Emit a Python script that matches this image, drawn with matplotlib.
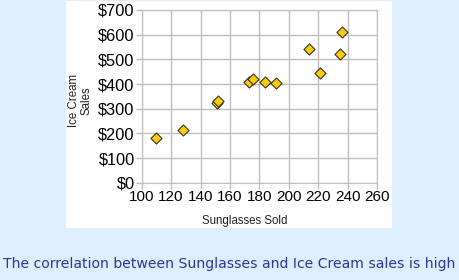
import matplotlib
matplotlib.use("Agg")
import matplotlib.pyplot as plt
from matplotlib.ticker import FuncFormatter

# sunglasses sold vs ice cream sales ($)
sunglasses = [110, 128, 151, 152, 173, 176, 184, 191, 214, 221, 235, 236]
ice_cream = [183, 213, 325, 330, 408, 420, 410, 405, 543, 445, 520, 612]

x_ticks = [100, 120, 140, 160, 180, 200, 220, 240, 260]
y_ticks = [0, 100, 200, 300, 400, 500, 600, 700]

bg = "#ddeeff"
grid_c = "#c0c0c0"

fig = plt.figure(figsize=(4.59, 2.8), dpi=100, facecolor=bg)

# white chart panel behind the plot
panel = fig.add_axes([0.1438, 0.1857, 0.710, 0.8107])
panel.set_facecolor("white")
panel.set_xticks([]); panel.set_yticks([])
for s in panel.spines.values():
    s.set_visible(False)

ax = fig.add_axes([0.3087, 0.3475, 0.5127, 0.6168])
ax.set_facecolor("white")
ax.scatter(sunglasses, ice_cream, marker="D", s=32, color="#ffcc00",
           edgecolor="#333333", linewidth=0.8, zorder=3, clip_on=False)

ax.set_xlim(100, 260)
ax.set_ylim(0, 700)
ax.set_xticks(x_ticks)
ax.set_yticks(y_ticks)
ax.yaxis.set_major_formatter(FuncFormatter(lambda v, p: f"${v:.0f}"))
ax.grid(True, color=grid_c, lw=1)
ax.set_axisbelow(True)
for s in ax.spines.values():
    s.set_color(grid_c)
ax.tick_params(colors=grid_c, labelcolor="black", length=4, width=1,
               labelsize=11, pad=1)
ax.tick_params(axis="y", labelsize=11.8)
for lab in ax.get_xticklabels() + ax.get_yticklabels():
    lab.set_family("Liberation Sans")

fig.text(0.534, 0.21, "Sunglasses Sold", ha="center", va="center",
         fontsize=8.3, family="Liberation Sans", color="#222222")
fig.text(0.1745, 0.641, "Ice Cream\nSales", ha="center", va="center",
         rotation=90, fontsize=8.3, family="Liberation Sans", color="#222222",
         linespacing=1.0)

fig.text(0.5, 0.057, "The correlation between Sunglasses and Ice Cream sales is high",
         ha="center", va="center", fontsize=10.1, family="DejaVu Sans",
         color="#333399")

fig.savefig("out.png", dpi=100, facecolor=bg)
